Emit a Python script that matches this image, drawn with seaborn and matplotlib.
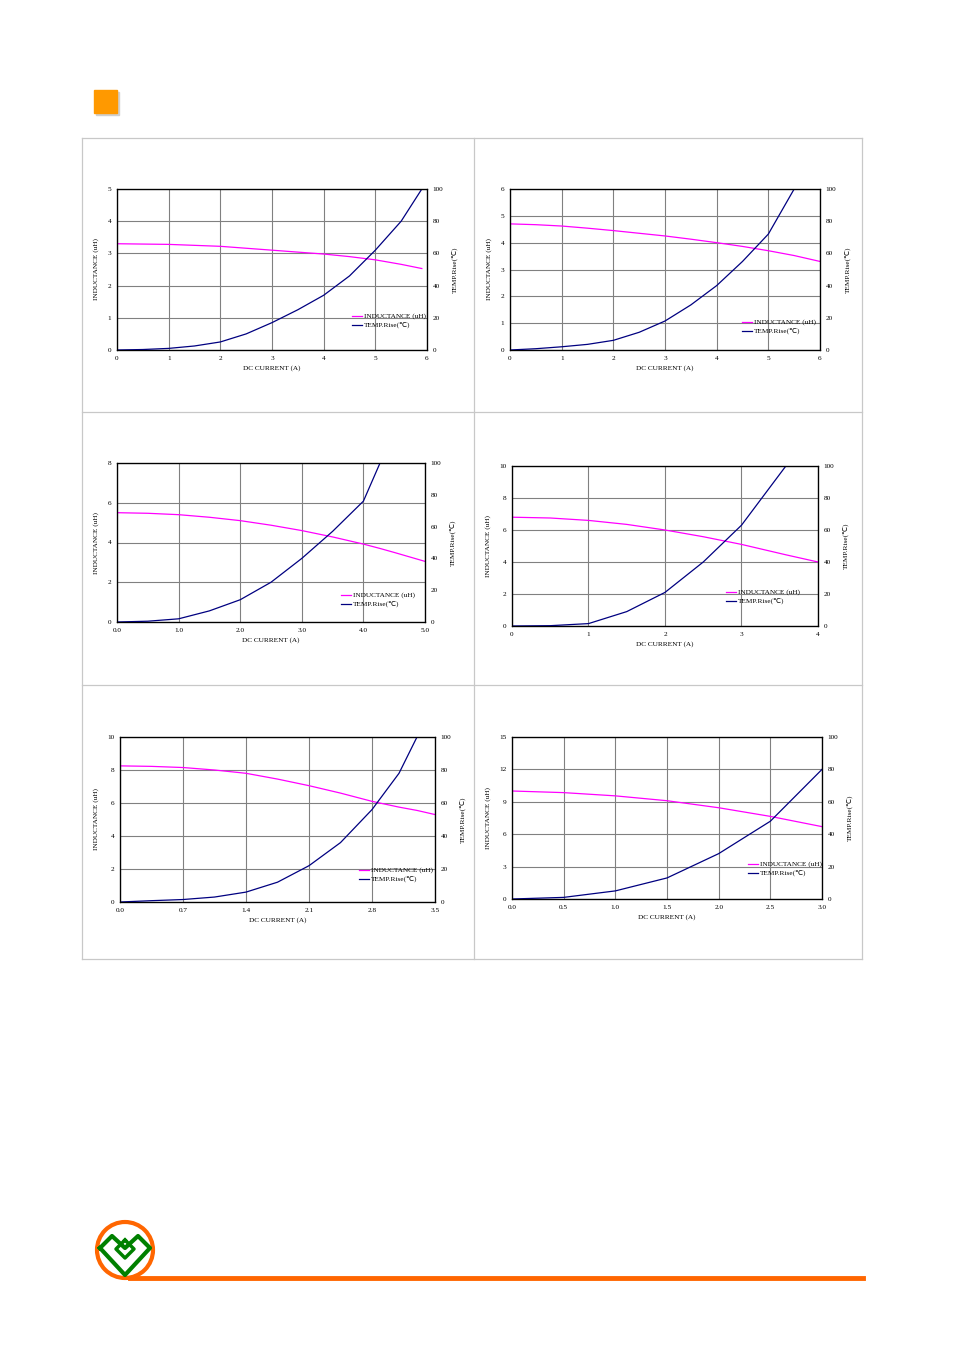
import matplotlib
matplotlib.use("Agg")
import matplotlib.pyplot as plt
import matplotlib.patches as mpatches
import seaborn as sns
import pandas as pd

W, H = 954, 1351
plt.rcParams["font.family"] = ["Liberation Serif", "DejaVu Sans"]

# ---- data ----
p1_x = [0, 0.5, 1, 1.5, 2, 2.5, 3, 3.5, 4, 4.5, 5, 5.5, 5.9]
p1_L = [3.30, 3.29, 3.28, 3.25, 3.22, 3.16, 3.10, 3.04, 2.98, 2.90, 2.80, 2.66, 2.53]
p1_T = [0, 0.3, 1, 2.5, 5, 10, 17, 25, 34, 46, 62, 80, 100]

p2_x = [0, 0.5, 1, 1.5, 2, 2.5, 3, 3.5, 4, 4.5, 5, 5.5]
p2_L = [4.70, 4.67, 4.62, 4.54, 4.45, 4.35, 4.25, 4.13, 4.00, 3.86, 3.70, 3.52]
p2_T = [0, 0.8, 2, 3.5, 6, 11, 18, 28, 40, 55, 72, 100]
p2_Lend = [6.0]
p2_Lendv = [3.30]

p3_x = [0, 0.5, 1, 1.5, 2, 2.5, 3, 3.5, 4, 4.27]
p3_L = [5.50, 5.47, 5.40, 5.27, 5.10, 4.87, 4.60, 4.28, 3.92, 3.70]
p3_T = [0, 0.5, 2, 7, 14, 25, 40, 57, 76, 100]
p3_Lend = [4.5, 5.0]
p3_Lendv = [3.50, 3.05]

p4_x = [0, 0.5, 1, 1.5, 2, 2.5, 3, 3.58]
p4_L = [6.80, 6.75, 6.60, 6.35, 6.00, 5.58, 5.10, 4.45]
p4_T = [0, 0.2, 1.5, 9, 21, 40, 63, 100]
p4_Lend = [4.0]
p4_Lendv = [4.00]

p5_x = [0, 0.35, 0.7, 1.05, 1.4, 1.75, 2.1, 2.45, 2.8, 3.1, 3.3]
p5_L = [8.25, 8.22, 8.15, 8.00, 7.80, 7.45, 7.05, 6.60, 6.10, 5.75, 5.55]
p5_T = [0, 0.8, 1.5, 3, 6, 12, 22, 36, 56, 78, 100]
p5_Lend = [3.5]
p5_Lendv = [5.30]

p6_x = [0, 0.5, 1, 1.5, 2, 2.5, 3]
p6_L = [10.0, 9.85, 9.55, 9.10, 8.45, 7.65, 6.70]
p6_T = [0, 1, 5, 13, 28, 48, 80]

def xt(a, b, s, fmt):
    out = []
    v = a
    while v <= b + 1e-9:
        out.append(v)
        v += s
    return out, [fmt.format(t) for t in out]

panels = [
    ((117, 189, 427, 350), p1_x, p1_L, p1_T, [], [], 6, 1, "{:.0f}", 5, 1, (352, 312)),
    ((510, 189, 820, 350), p2_x, p2_L, p2_T, p2_Lend, p2_Lendv, 6, 1, "{:.0f}", 6, 1, (742, 318)),
    ((117, 463, 425, 622), p3_x, p3_L, p3_T, p3_Lend, p3_Lendv, 5, 1, "{:.1f}", 8, 2, (341, 591)),
    ((512, 466, 818, 626), p4_x, p4_L, p4_T, p4_Lend, p4_Lendv, 4, 1, "{:.0f}", 10, 2, (726, 588)),
    ((120, 737, 435, 902), p5_x, p5_L, p5_T, p5_Lend, p5_Lendv, 3.5, 0.7, "{:.1f}", 10, 2, (359, 866)),
    ((512, 737, 822, 899), p6_x, p6_L, p6_T, [], [], 3, 0.5, "{:.1f}", 15, 3, (748, 860)),
]

fig = plt.figure(figsize=(W / 100, H / 100), dpi=100)
fig.patch.set_facecolor("white")

bg = fig.add_axes([0, 0, 1, 1])
bg.set_xlim(0, W); bg.set_ylim(H, 0); bg.axis("off")
gc = "#c8c8c8"
for (x0, y0, x1, y1) in [(82, 138, 862, 138), (82, 959, 862, 959), (82, 138, 82, 959),
                         (862, 138, 862, 959), (474, 138, 474, 959), (82, 412, 862, 412),
                         (82, 685, 862, 685)]:
    bg.plot([x0, x1], [y0, y1], color=gc, lw=0.9)
bg.add_patch(mpatches.Rectangle((96, 92), 23, 23, color="#cfcfcf"))
bg.add_patch(mpatches.Rectangle((94, 90), 23, 23, color="#ff9900"))
bg.plot([130, 863], [1278, 1278], color="#ff6600", lw=3.5)
bg.add_patch(mpatches.Circle((125, 1250), 28, fill=False, ec="#ff6600", lw=3))
bg.plot([100, 125, 150, 138, 125, 112, 100], [1248, 1275, 1248, 1236, 1248, 1236, 1248],
        color="#008000", lw=3)
bg.plot([125, 116, 125, 134, 125], [1240, 1249, 1258, 1249, 1240], color="#008000", lw=2.5)

fs = 5.2
for (box, x, L, T, xe, Le, xmax, xstep, xfmt, Lmax, Lstep, leg) in panels:
    x0, y0, x1, y1 = box
    ax = fig.add_axes([x0 / W, 1 - y1 / H, (x1 - x0) / W, (y1 - y0) / H])
    xticks, xlabels = xt(0, xmax, xstep, xfmt)
    Lticks, Llabels = xt(0, Lmax, Lstep, "{:.0f}")
    dfL = pd.DataFrame({"x": list(x) + list(xe), "y": list(L) + list(Le)})
    sns.lineplot(data=dfL, x="x", y="y", ax=ax, color="#ff00ff", lw=0.9, estimator=None, sort=True)
    ax.set_xlim(0, xmax); ax.set_ylim(0, Lmax)
    ax.set_xticks(xticks); ax.set_xticklabels(xlabels, fontsize=fs)
    ax.set_yticks(Lticks); ax.set_yticklabels(Llabels, fontsize=fs)
    ax.grid(True, color="#808080", lw=0.8)
    ax.set_axisbelow(True)
    ax.tick_params(length=0, pad=4)
    for s in ax.spines.values():
        s.set_linewidth(0.9); s.set_color("black")
    ax.set_xlabel("DC CURRENT (A)", fontsize=fs, labelpad=3)
    ax.set_ylabel("INDUCTANCE (uH)", fontsize=fs, labelpad=6)
    ax2 = ax.twinx()
    dfT = pd.DataFrame({"x": x, "y": T})
    sns.lineplot(data=dfT, x="x", y="y", ax=ax2, color="#000080", lw=0.9, estimator=None, sort=True)
    ax2.set_ylim(0, 100)
    ax2.set_yticks(range(0, 101, 20)); ax2.set_yticklabels([str(v) for v in range(0, 101, 20)], fontsize=fs)
    ax2.tick_params(length=0, pad=4)
    ax2.set_ylabel("TEMP.Rise(\u2103)", fontsize=fs, labelpad=6)
    ax2.set_xlim(0, xmax)
    # legend drawn in figure pixel coords on top
    lx, ly = leg
    for yy, col, lab in [(ly + 4, "#ff00ff", "INDUCTANCE (uH)"), (ly + 13, "#000080", "TEMP.Rise(\u2103)")]:
        fig.add_artist(matplotlib.lines.Line2D([lx / W, (lx + 10) / W], [1 - yy / H, 1 - yy / H],
                                               color=col, lw=0.9))
        fig.text((lx + 12) / W, 1 - yy / H, lab, fontsize=fs, va="center")

fig.savefig("out.png", dpi=100, facecolor="white")
